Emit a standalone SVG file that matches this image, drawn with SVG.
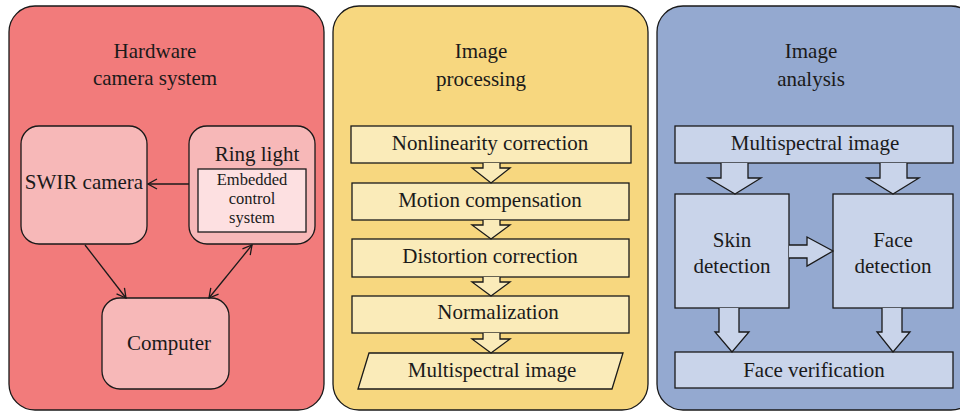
<svg xmlns="http://www.w3.org/2000/svg" width="960" height="411" viewBox="0 0 960 411">
<defs>
<style>
text{font-family:"Liberation Serif","Times New Roman","DejaVu Serif",serif;font-size:21px;fill:#1a1a1a;text-anchor:middle}
.sm{font-size:16.5px}
.ln{stroke:#1a1a1a;stroke-width:1.3}
.p1{fill:#f27b7b}
.p2{fill:#f7d77f}
.p3{fill:#94a9d0}
.n1{fill:#f7b8b8}
.n1b{fill:#fde0e1}
.n2{fill:#faebb9}
.n3{fill:#c9d4ea}
.ba2{fill:#faebb9;stroke:#1a1a1a;stroke-width:1.3;stroke-linejoin:miter}
.ba3{fill:#c9d4ea;stroke:#1a1a1a;stroke-width:1.3}
</style>
<marker id="ah" viewBox="0 0 12 12" refX="11" refY="6" markerWidth="12" markerHeight="12" markerUnits="userSpaceOnUse" orient="auto-start-reverse">
<path d="M2,1 L11,6 L2,11" fill="none" stroke="#1a1a1a" stroke-width="1.3"/>
</marker>
</defs>

<g id="panel-hardware">
<rect x="9" y="6" width="315" height="404" rx="26" class="p1 ln"/>
<text x="155" y="58">Hardware</text>
<text x="155" y="85">camera system</text>
</g>
<g id="panel-processing">
<rect x="333" y="6" width="315" height="404" rx="26" class="p2 ln"/>
<text x="481" y="58">Image</text>
<text x="481" y="86">processing</text>
</g>
<g id="panel-analysis">
<rect x="657" y="6" width="320" height="404" rx="26" class="p3 ln"/>
<text x="811" y="58">Image</text>
<text x="811" y="86">analysis</text>
</g>

<g id="swir-camera">
<rect x="21" y="126" width="126" height="118" rx="18" class="n1 ln"/>
<text x="84" y="189">SWIR camera</text>
</g>
<g id="ring-light">
<rect x="189" y="126" width="126" height="118" rx="18" class="n1 ln"/>
<text x="257" y="161">Ring light</text>
<rect x="198" y="169" width="108" height="63" class="n1b ln"/>
<text x="252" y="185" class="sm">Embedded</text>
<text x="252" y="204" class="sm">control</text>
<text x="252" y="223" class="sm">system</text>
</g>
<g id="computer">
<rect x="102" y="298" width="127" height="91" rx="18" class="n1 ln"/>
<text x="169" y="350">Computer</text>
</g>

<g id="nonlinearity">
<rect x="351" y="126" width="280" height="37" class="n2 ln"/>
<text x="490" y="150">Nonlinearity correction</text>
</g>
<g id="motion">
<rect x="352" y="183" width="277" height="37" class="n2 ln"/>
<text x="490" y="207">Motion compensation</text>
</g>
<g id="distortion">
<rect x="352" y="239" width="277" height="38" class="n2 ln"/>
<text x="490" y="263">Distortion correction</text>
</g>
<g id="normalization">
<rect x="352" y="296" width="277" height="37" class="n2 ln"/>
<text x="498" y="319">Normalization</text>
</g>
<g id="multispectral-out">
<polygon points="369,353 623,353 612,389 358,389" class="n2 ln"/>
<text x="492" y="377">Multispectral image</text>
</g>

<g id="multispectral-in">
<rect x="675" y="126" width="278" height="37" class="n3 ln"/>
<text x="815" y="150">Multispectral image</text>
</g>
<g id="skin-detection">
<rect x="675" y="194" width="114" height="114" class="n3 ln"/>
<text x="732" y="247">Skin</text>
<text x="732" y="273">detection</text>
</g>
<g id="face-detection">
<rect x="833" y="194" width="120" height="114" class="n3 ln"/>
<text x="893" y="247">Face</text>
<text x="893" y="273">detection</text>
</g>
<g id="face-verification">
<rect x="675" y="352" width="278" height="36" class="n3 ln"/>
<text x="814" y="377">Face verification</text>
</g>

<g id="connectors">
<line x1="189" y1="184" x2="148" y2="184" class="ln" marker-end="url(#ah)"/>
<line x1="85" y1="245" x2="126" y2="298" class="ln" marker-end="url(#ah)"/>
<line x1="252" y1="245" x2="209" y2="298" class="ln" marker-start="url(#ah)" marker-end="url(#ah)"/>

<path d="M483,163 L483,168 L472,168 L491,183 L510,168 L500,168 L500,163" class="ba2"/>
<path d="M483,220 L483,225 L472,225 L491,239 L510,225 L500,225 L500,220" class="ba2"/>
<path d="M483,277 L483,282 L472,282 L491,296 L510,282 L500,282 L500,277" class="ba2"/>
<path d="M483,333 L483,339 L472,339 L491,353 L510,339 L500,339 L500,333" class="ba2"/>

<path d="M721,163 L721,178 L708,178 L735,194 L761,178 L748,178 L748,163" class="ba3"/>
<path d="M880,163 L880,178 L867,178 L893,194 L919,178 L907,178 L907,163" class="ba3"/>
<path d="M789,245 L807,245 L807,237 L833,251 L807,266 L807,258 L789,258" class="ba3"/>
<path d="M719,308 L719,332 L715,332 L732,352 L749,332 L739,332 L739,308" class="ba3"/>
<path d="M882,308 L882,332 L877,332 L893,352 L910,332 L902,332 L902,308" class="ba3"/>
</g>
</svg>
